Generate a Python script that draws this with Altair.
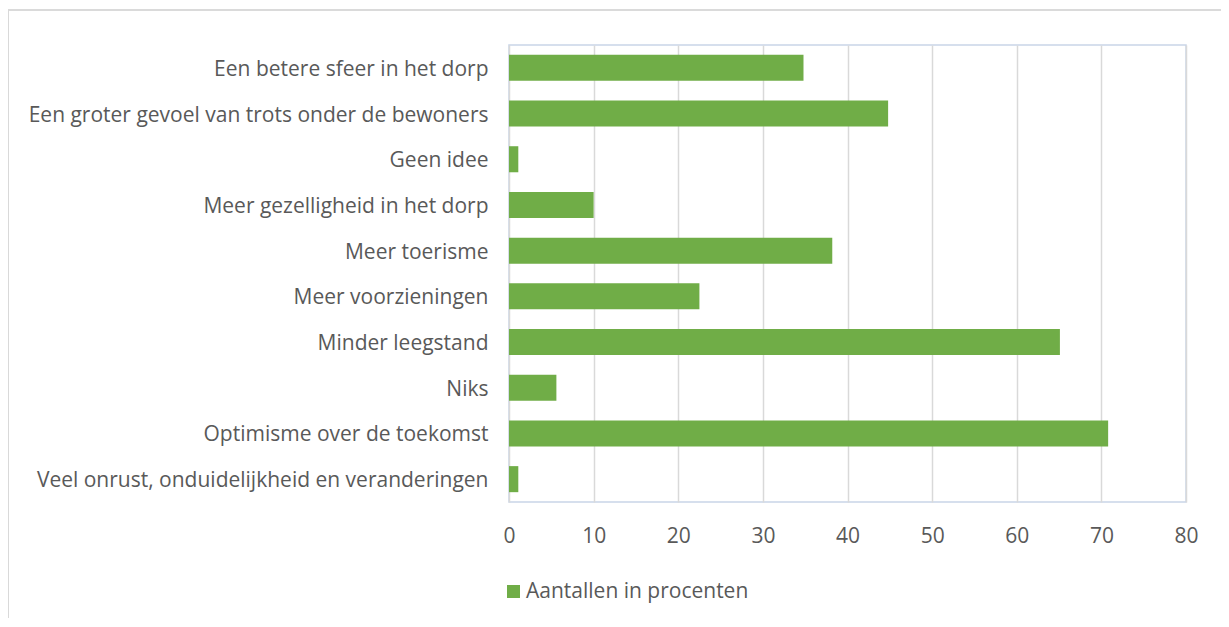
import altair as alt
import pandas as pd

categories = [
    "Een betere sfeer in het dorp",
    "Een groter gevoel van trots onder de bewoners",
    "Geen idee",
    "Meer gezelligheid in het dorp",
    "Meer toerisme",
    "Meer voorzieningen",
    "Minder leegstand",
    "Niks",
    "Optimisme over de toekomst",
    "Veel onrust, onduidelijkheid en veranderingen",
]
values = [34.8, 44.8, 1.1, 10.0, 38.2, 22.5, 65.1, 5.6, 70.8, 1.1]
series_name = "Aantallen in procenten"

df = pd.DataFrame({"categorie": categories, "waarde": values, "reeks": [series_name] * len(values)})

FONT = "Open Sans"
GREY = "#595959"
FS = 21

bars = alt.Chart(df).mark_bar(color="#70AD47").encode(
    y=alt.Y("categorie:N", sort=None, title=None,
            scale=alt.Scale(paddingInner=0.43, paddingOuter=0.215),
            axis=alt.Axis(labelFontSize=FS, labelColor=GREY, labelFont=FONT,
                          ticks=False, domain=False, labelPadding=21, labelLimit=600,
                          labelOffset=2)),
    x=alt.X("waarde:Q", title=None,
            scale=alt.Scale(domain=[0, 80], nice=False),
            axis=alt.Axis(values=list(range(0, 81, 10)), labelFontSize=FS, labelColor=GREY,
                          labelFont=FONT, ticks=False, domain=False, labelPadding=23,
                          labelFlush=False,
                          grid=True, gridColor="#D9D9D9", gridWidth=1.5)),
    color=alt.Color("reeks:N", title=None,
                    scale=alt.Scale(domain=[series_name], range=["#70AD47"]),
                    legend=alt.Legend(orient="none", legendX=-6, legendY=536,
                                      symbolType="square", symbolSize=170,
                                      symbolStrokeWidth=0, labelFontSize=FS,
                                      labelColor=GREY, labelFont=FONT, labelOffset=2,
                                      labelLimit=500)),
)

frame = alt.Chart(df).mark_rect(fill=None, stroke="#D9D9D9", strokeWidth=1.2).encode(
    x=alt.value(-501), x2=alt.value(760), y=alt.value(-35), y2=alt.value(620)
)

chart = alt.layer(frame, bars).properties(
    width=677, height=457,
    autosize=alt.AutoSizeParams(type="none"),
    padding={"left": 501, "top": 37, "right": 35, "bottom": 116},
).configure_view(stroke="#C9D5E8", strokeWidth=1.5)

chart.save("out.html", embed_options={"renderer": "svg", "actions": False})
